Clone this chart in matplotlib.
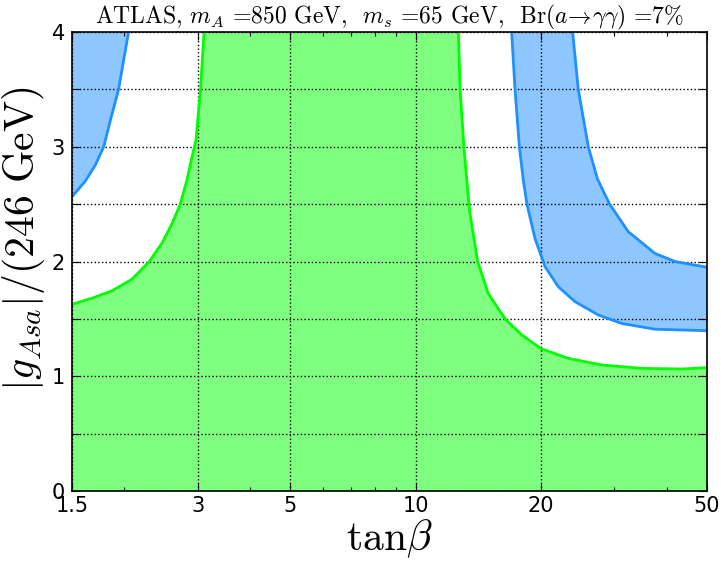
import matplotlib
matplotlib.use('Agg')
import matplotlib.pyplot as plt
import numpy as np

plt.rcParams['mathtext.fontset'] = 'cm'

# green region: lower boundary, left branch rises to the top, right branch comes down
green_left_x = [1.5, 1.51, 1.675, 1.871, 2.089, 2.299, 2.466, 2.606, 2.728, 2.83, 2.91,
                2.975, 3.05, 3.11]
green_left_y = [1.62, 1.63, 1.68, 1.745, 1.845, 2.0, 2.16, 2.33, 2.5, 2.71, 2.91,
                3.06, 3.5, 4.0]
green_right_x = [12.67, 12.79, 13.06, 13.27, 13.5, 14.09, 14.94, 16.39, 17.97, 19.99,
                 23.24, 27.95, 34.86, 43.5, 50.0]
green_right_y = [4.0, 3.5, 3.0, 2.71, 2.42, 2.0, 1.72, 1.5, 1.36, 1.24,
                 1.156, 1.098, 1.069, 1.063, 1.075]

# blue band, upper left corner
blue_left_x = [1.5, 1.614, 1.706, 1.787, 1.86, 1.94, 1.994, 2.05]
blue_left_y = [2.565, 2.7, 2.84, 3.0, 3.25, 3.5, 3.75, 4.0]

# blue band, right side (outer = lower edge, inner = upper edge)
blue_lo_x = [17.0, 17.32, 17.74, 18.13, 18.5, 19.34, 20.44, 22.0, 24.12, 27.43,
             31.21, 37.52, 50.0]
blue_lo_y = [4.0, 3.5, 3.0, 2.71, 2.5, 2.2, 1.955, 1.78, 1.65, 1.534,
             1.46, 1.41, 1.397]
blue_hi_x = [23.81, 24.56, 25.96, 27.3, 29.2, 32.37, 37.52, 41.9, 50.0]
blue_hi_y = [4.0, 3.5, 3.0, 2.72, 2.5, 2.26, 2.07, 2.0, 1.95]

xticks = [1.5, 3, 5, 10, 20, 50]
xticklabels = ['1.5', '3', '5', '10', '20', '50']
yticks = [0, 0.5, 1, 1.5, 2, 2.5, 3, 3.5, 4]
yticklabels = ['0', '', '1', '', '2', '', '3', '', '4']

XMIN, XMAX, YMIN, YMAX = 1.5, 50, 0, 4


def main():
    fig = plt.figure(figsize=(7.25, 5.61), dpi=100)
    ax = fig.add_axes([72 / 725, 70 / 561, 635 / 725, 459 / 561])
    ax.set_xscale('log')

    # green
    gx = np.array(green_left_x + green_right_x)
    gy = np.array(green_left_y + green_right_y)
    ax.fill_between(gx, YMIN, gy, color='lime', alpha=0.5, lw=0, zorder=1)
    ax.plot(green_left_x, green_left_y, color='lime', lw=2, zorder=3)
    ax.plot(green_right_x, green_right_y, color='lime', lw=2, zorder=3)

    # blue, upper left
    ax.fill_between(np.array(blue_left_x), np.array(blue_left_y), YMAX,
                    color='dodgerblue', alpha=0.5, lw=0, zorder=1)
    ax.plot(blue_left_x, blue_left_y, color='dodgerblue', lw=2, zorder=3)

    # blue, right band
    band_x = np.concatenate([blue_lo_x, blue_hi_x[::-1]])
    band_y = np.concatenate([blue_lo_y, blue_hi_y[::-1]])
    ax.fill(band_x, band_y, color='dodgerblue', alpha=0.5, lw=0, zorder=1)
    ax.plot(blue_lo_x, blue_lo_y, color='dodgerblue', lw=2, zorder=3)
    ax.plot(blue_hi_x, blue_hi_y, color='dodgerblue', lw=2, zorder=3)

    ax.set_xlim(XMIN, XMAX)
    ax.set_ylim(YMIN, YMAX)
    ax.set_xticks(xticks)
    ax.set_xticklabels(xticklabels, fontsize=15)
    ax.set_yticks(yticks)
    ax.set_yticklabels(yticklabels, fontsize=15)
    ax.minorticks_on()
    ax.yaxis.set_minor_locator(matplotlib.ticker.NullLocator())
    ax.xaxis.set_minor_formatter(matplotlib.ticker.NullFormatter())
    ax.tick_params(which='both', direction='in', top=True, right=True)
    ax.tick_params(which='major', length=6, width=0.8)
    ax.tick_params(which='minor', length=3, width=0.8)
    ax.tick_params(axis='y', pad=5)
    ax.grid(True, which='major', color='black', linestyle=':', lw=1, zorder=2)
    ax.set_axisbelow(False)
    for sp in ax.spines.values():
        sp.set_linewidth(1.2)
        sp.set_zorder(5)

    ax.set_xlabel(r'$\mathrm{tan}\beta$', fontsize=30, labelpad=1)
    ax.set_ylabel(r'$|g_{Asa}|/(246\ \mathrm{GeV})$', fontsize=30)
    ax.yaxis.set_label_coords(-0.04, 0.55)
    ax.set_title(r'ATLAS, $m_A$ =850 GeV,  $m_s$ =65 GeV,  Br($a\!\rightarrow\!\gamma\gamma$) =7%',
                 fontsize=17, family='cmr10', pad=3)

    fig.savefig('out.png', dpi=100, facecolor='white')
    plt.close(fig)


if __name__ == '__main__':
    main()
